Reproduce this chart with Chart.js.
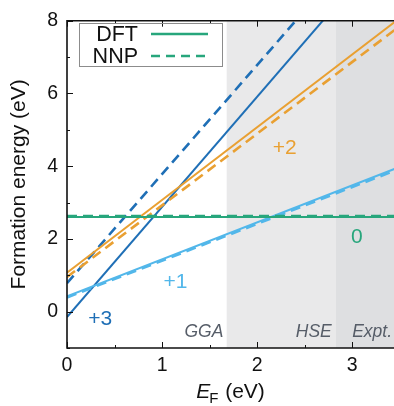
<!DOCTYPE html>
<html>
<head>
<meta charset="utf-8">
<script src="https://cdn.jsdelivr.net/npm/chart.js@4.4.1/dist/chart.umd.min.js"></script>
<style>
  html, body { margin: 0; padding: 0; background: #fff; }
  #wrap { width: 394px; height: 406px; }
</style>
</head>
<body>
<div id="wrap"><canvas id="chart" width="394" height="406"></canvas></div>
<script>
// Fermi level (eV) at the two ends of each charge-state line
const fermiLevels = [0, 3.5];

// Formation energies (eV) at those Fermi levels, DFT vs. neural-network potential
const dftQ0 = [2.60, 2.60];
const nnpQ0 = [2.63, 2.63];
const dftQ1 = [0.42, 3.98];
const nnpQ1 = [0.39, 3.93];
const dftQ2 = [1.07, 8.07];
const nnpQ2 = [0.95, 7.85];
const dftQ3 = [-0.15, 10.45];
const nnpQ3 = [0.78, 11.28];

// Charge-state labels
const chargeNames = ['0', '+1', '+2', '+3'];

// Band gaps (eV) from different methods
const gapNames = ['GGA', 'HSE', 'Expt.'];
const gapValues = [1.68, 2.83, 3.5];

// Axis ticks
const xTicks = [0, 1, 2, 3];
const xMinorTicks = [0.5, 1.5, 2.5];
const yTicks = [0, 2, 4, 6, 8];
const yMinorTicks = [-1, 1, 3, 5, 7];

const FONT = '"Liberation Sans", Arial, Helvetica, sans-serif';
const COLORS = {
  q0: '#27a67c',
  q1: '#52b7ea',
  q2: '#e9a032',
  q3: '#1f6fb6'
};

const toPoints = arr => fermiLevels.map((x, i) => ({ x: x, y: arr[i] }));

function line(label, arr, color, dashed) {
  return {
    label: label,
    data: toPoints(arr),
    borderColor: color,
    borderWidth: dashed ? 2.6 : 2,
    borderDash: dashed ? [10, 6] : [],
    pointRadius: 0,
    tension: 0,
    fill: false
  };
}

// Shaded band-gap regions behind the lines
const bandShading = {
  id: 'bandShading',
  beforeDatasetsDraw(chart) {
    const { ctx, chartArea: a, scales: { x } } = chart;
    const fills = ['#e9e9ea', '#dedfe1'];
    ctx.save();
    for (let i = 0; i < 2; i++) {
      const x0 = x.getPixelForValue(gapValues[i]);
      const x1 = i === 1 ? a.right + 5 : x.getPixelForValue(gapValues[i + 1]);
      ctx.fillStyle = fills[i];
      ctx.fillRect(x0, a.top, x1 - x0, a.bottom - a.top);
    }
    ctx.restore();
  }
};

// Frame, inward ticks, titles, legend and text labels
const decorations = {
  id: 'decorations',
  afterDatasetsDraw(chart) {
    const { ctx, chartArea: a, scales: { x, y } } = chart;
    ctx.save();

    // band-gap method names
    const bandLabelPos = [
      { v: 1.645, align: 'right' },
      { v: 2.785, align: 'right' },
      { v: 3.0, align: 'left' }
    ];
    ctx.font = 'italic 17.5px ' + FONT;
    ctx.fillStyle = '#565d68';
    ctx.textBaseline = 'middle';
    gapNames.forEach((name, i) => {
      ctx.textAlign = bandLabelPos[i].align;
      ctx.fillText(name, x.getPixelForValue(bandLabelPos[i].v), y.getPixelForValue(-0.55));
    });

    // charge-state labels
    const chargePos = [
      { x: 3.05, y: 2.04, c: COLORS.q0 },
      { x: 1.14, y: 0.82, c: COLORS.q1 },
      { x: 2.29, y: 4.49, c: COLORS.q2 },
      { x: 0.35, y: -0.22, c: COLORS.q3 }
    ];
    ctx.font = '21px ' + FONT;
    ctx.textAlign = 'center';
    chargeNames.forEach((name, i) => {
      ctx.fillStyle = chargePos[i].c;
      ctx.fillText(name, x.getPixelForValue(chargePos[i].x), y.getPixelForValue(chargePos[i].y));
    });

    // frame (left, top, bottom)
    ctx.strokeStyle = '#111';
    ctx.lineWidth = 1.6;
    ctx.beginPath();
    ctx.moveTo(a.right + 2, a.top);
    ctx.lineTo(a.left, a.top);
    ctx.lineTo(a.left, a.bottom);
    ctx.lineTo(a.right + 2, a.bottom);
    ctx.stroke();

    // inward ticks
    ctx.lineWidth = 1;
    ctx.beginPath();
    const xt = (v, len) => {
      const px = Math.round(x.getPixelForValue(v)) + 0.5;
      ctx.moveTo(px, a.bottom); ctx.lineTo(px, a.bottom - len);
      ctx.moveTo(px, a.top); ctx.lineTo(px, a.top + len);
    };
    const yt = (v, len) => {
      const py = Math.round(y.getPixelForValue(v)) + 0.5;
      ctx.moveTo(a.left, py); ctx.lineTo(a.left + len, py);
    };
    xTicks.forEach(v => xt(v, 6));
    xMinorTicks.forEach(v => xt(v, 3));
    yTicks.forEach(v => yt(v, 6));
    yMinorTicks.forEach(v => yt(v, 3));
    ctx.stroke();

    // legend
    ctx.strokeStyle = '#8c8c8c';
    ctx.lineWidth = 1;
    ctx.strokeRect(79.5, 23.5, 143, 43);
    ctx.font = '21.5px ' + FONT;
    ctx.fillStyle = '#111';
    ctx.textAlign = 'right';
    ctx.textBaseline = 'middle';
    ctx.fillText('DFT', 138, 35);
    ctx.fillText('NNP', 138, 57);
    ctx.strokeStyle = COLORS.q0;
    ctx.lineWidth = 2.4;
    ctx.beginPath();
    ctx.moveTo(151, 34); ctx.lineTo(208, 34);
    ctx.stroke();
    ctx.setLineDash([9, 6]);
    ctx.beginPath();
    ctx.moveTo(151, 56); ctx.lineTo(208, 56);
    ctx.stroke();
    ctx.setLineDash([]);

    // y title
    ctx.save();
    ctx.translate(19, (a.top + a.bottom) / 2);
    ctx.rotate(-Math.PI / 2);
    ctx.font = '21px ' + FONT;
    ctx.fillStyle = '#111';
    ctx.textAlign = 'center';
    ctx.textBaseline = 'middle';
    ctx.fillText('Formation energy (eV)', 0, 0);
    ctx.restore();

    // x title: E_F (eV)
    ctx.textAlign = 'left';
    ctx.textBaseline = 'alphabetic';
    ctx.fillStyle = '#111';
    const fE = 'italic 21px ' + FONT, fSub = '15px ' + FONT, fRest = '21px ' + FONT;
    ctx.font = fE; const wE = ctx.measureText('E').width;
    ctx.font = fSub; const wF = ctx.measureText('F').width;
    ctx.font = fRest; const wR = ctx.measureText(' (eV)').width;
    let cx = (a.left + 394) / 2 - (wE + wF + wR) / 2;
    const base = 398;
    ctx.font = fE; ctx.fillText('E', cx, base); cx += wE;
    ctx.font = fSub; ctx.fillText('F', cx - 1, base + 5); cx += wF;
    ctx.font = fRest; ctx.fillText(' (eV)', cx, base);

    ctx.restore();
  }
};

new Chart(document.getElementById('chart'), {
  type: 'line',
  data: {
    datasets: [
      line('DFT q=0', dftQ0, COLORS.q0, false),
      line('NNP q=0', nnpQ0, COLORS.q0, true),
      line('DFT q=+1', dftQ1, COLORS.q1, false),
      line('NNP q=+1', nnpQ1, COLORS.q1, true),
      line('DFT q=+2', dftQ2, COLORS.q2, false),
      line('NNP q=+2', nnpQ2, COLORS.q2, true),
      line('DFT q=+3', dftQ3, COLORS.q3, false),
      line('NNP q=+3', nnpQ3, COLORS.q3, true)
    ]
  },
  options: {
    responsive: false,
    animation: false,
    devicePixelRatio: 1,
    layout: { padding: { top: 17, right: 0, left: 0, bottom: 0 } },
    plugins: { legend: { display: false }, tooltip: { enabled: false } },
    scales: {
      x: {
        type: 'linear',
        min: 0,
        max: 3.44,
        afterFit(s) { s.height = 58; },
        afterBuildTicks(s) { s.ticks = xTicks.map(v => ({ value: v })); },
        grid: { display: false, drawTicks: false },
        border: { display: false },
        ticks: { color: '#111', font: { family: FONT, size: 19.5 }, padding: 6, maxRotation: 0 }
      },
      y: {
        type: 'linear',
        min: -1,
        max: 8,
        afterFit(s) { s.width = 67; },
        afterBuildTicks(s) { s.ticks = yTicks.map(v => ({ value: v })); },
        grid: { display: false, drawTicks: false },
        border: { display: false },
        ticks: { color: '#111', font: { family: FONT, size: 19.5 }, padding: 9 }
      }
    }
  },
  plugins: [bandShading, decorations]
});
</script>
</body>
</html>
